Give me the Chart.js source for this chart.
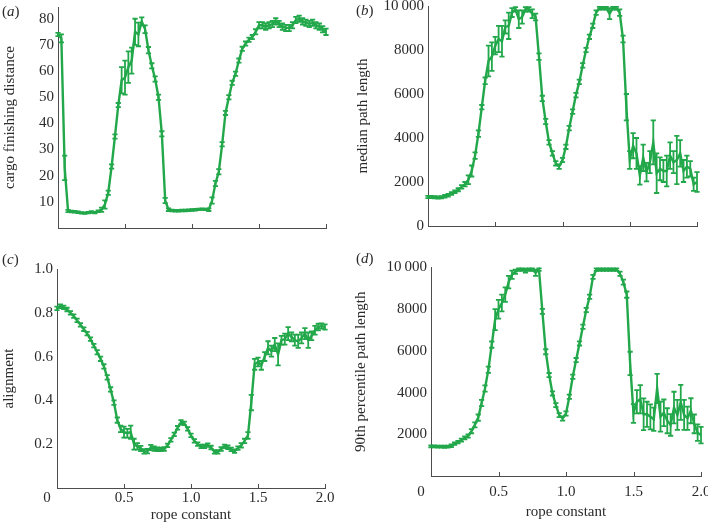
<!DOCTYPE html>
<html>
<head>
<meta charset="utf-8">
<script src="https://cdn.jsdelivr.net/npm/chart.js@4.4.1/dist/chart.umd.min.js"></script>
<style>
  html, body { margin: 0; padding: 0; background: #fff; }
  body { position: relative; width: 708px; height: 523px; overflow: hidden;
         font-family: 'Liberation Serif', 'Times New Roman', serif; color: #2b2b2b; }
  canvas { position: absolute; }
  .tag { position: absolute; font-size: 15px; line-height: 15px; }
</style>
</head>
<body>
<canvas id="panelA" width="354" height="260" style="left:0;top:0"></canvas>
<canvas id="panelB" width="354" height="260" style="left:354px;top:0"></canvas>
<canvas id="panelC" width="354" height="263" style="left:0;top:260px"></canvas>
<canvas id="panelD" width="354" height="263" style="left:354px;top:260px"></canvas>
<div class="tag" style="left:2px;top:4px">(<i>a</i>)</div>
<div class="tag" style="left:356px;top:3px">(<i>b</i>)</div>
<div class="tag" style="left:2px;top:252px">(<i>c</i>)</div>
<div class="tag" style="left:356px;top:251px">(<i>d</i>)</div>
<script>
// x values shared by all four panels
var ROPE_CONSTANT = [
  0, 0.025, 0.05, 0.075, 0.1, 0.125, 0.15, 0.175, 0.2, 0.225,
  0.25, 0.275, 0.3, 0.325, 0.35, 0.375, 0.4, 0.425, 0.45, 0.475,
  0.5, 0.525, 0.55, 0.575, 0.6, 0.625, 0.65, 0.675, 0.7, 0.725,
  0.75, 0.775, 0.8, 0.825, 0.85, 0.875, 0.9, 0.925, 0.95, 0.975,
  1.0, 1.025, 1.05, 1.075, 1.1, 1.125, 1.15, 1.175, 1.2, 1.225,
  1.25, 1.275, 1.3, 1.325, 1.35, 1.375, 1.4, 1.425, 1.45, 1.475,
  1.5, 1.525, 1.55, 1.575, 1.6, 1.625, 1.65, 1.675, 1.7, 1.725,
  1.75, 1.775, 1.8, 1.825, 1.85, 1.875, 1.9, 1.925, 1.95, 1.975,
  2.0
];

// (a) cargo finishing distance
var CARGO_DIST = [
  74, 72.5, 23, 6.5, 6.3, 6.2, 6.0, 5.8, 5.7, 5.9,
  6.1, 5.9, 6.4, 7, 9, 13.5, 23.5, 35, 47, 56.5,
  57.5, 61.5, 64, 75, 74, 79, 76, 68, 62, 57,
  50, 36, 10.5, 7, 6.7, 6.6, 6.6, 6.7, 6.7, 6.8,
  6.9, 7.0, 7.1, 7.2, 7.1, 7.0, 10.5, 17, 21.5, 32,
  44, 50, 55.5, 59, 64, 68.5, 70.5, 72, 73, 75,
  77.5, 77.5, 77, 77.5, 78, 79, 78, 77, 76.5, 76.5,
  77.5, 79.5, 80, 79, 78.5, 78, 78.5, 77.5, 77, 76,
  75
];
var CARGO_ERR = [
  0.6, 1.5, 4.7, 0.4, 0.3, 0.3, 0.3, 0.3, 0.3, 0.3,
  0.3, 0.3, 0.3, 0.8, 1.6, 0.8, 0.8, 0.8, 0.8, 5,
  6.5, 6, 5, 5, 4.5, 1.5, 1.5, 1.2, 1, 1,
  1, 1, 1, 0.5, 0.3, 0.3, 0.3, 0.3, 0.3, 0.3,
  0.3, 0.3, 0.3, 0.3, 0.3, 0.5, 1.2, 1, 1, 0.8,
  0.8, 0.8, 0.8, 0.8, 0.8, 0.8, 0.8, 0.8, 0.8, 1,
  1.2, 1.2, 1.2, 1.2, 1.2, 1.2, 1.2, 1.2, 1.2, 1.2,
  1.2, 1.2, 1.2, 1.2, 1.2, 1.2, 1.2, 1.2, 1.2, 1.2,
  1.2
];

// (b) median path length
var MEDIAN_PATH = [
  1320, 1320, 1310, 1300, 1310, 1350, 1400, 1480, 1560, 1650,
  1780, 1900, 2100, 2500, 3200, 4200, 5400, 6600, 7500, 7700,
  8200, 8500, 8400, 9050, 9100, 9700, 9850, 9400, 9500, 9850,
  9850, 9650, 9500, 7700, 5800, 4750, 3800, 3300, 2850, 2700,
  3000, 3600, 4450, 5200, 5950, 6550, 7300, 8000, 8600, 9100,
  9700, 9900, 9900, 9900, 9650, 9900, 9900, 9700, 8500, 5400,
  3000, 3650, 3300, 2300, 3100, 2450, 2900, 3800, 2400, 2600,
  2500, 2500, 3200, 2900, 3000, 3300, 2500, 2700, 2600, 1900,
  2000
];
var MEDIAN_ERR = [
  50, 50, 50, 50, 50, 60, 60, 60, 60, 70,
  80, 100, 200, 250, 150, 150, 100, 150, 700, 650,
  400, 600, 700, 300, 600, 200, 100, 400, 300, 100,
  100, 200, 150, 150, 120, 120, 100, 100, 100, 100,
  100, 100, 100, 100, 100, 100, 100, 100, 100, 100,
  100, 60, 60, 60, 250, 60, 60, 150, 150, 600,
  400, 570, 700, 420, 600, 420, 500, 1000, 900, 520,
  500, 700, 600, 500, 1100, 600, 500, 500, 350, 300,
  450
];

// (c) alignment
var ALIGNMENT = [
  0.82, 0.83, 0.825, 0.815, 0.80, 0.785, 0.765, 0.745, 0.725, 0.705,
  0.68, 0.65, 0.62, 0.59, 0.555, 0.505, 0.45, 0.39, 0.31, 0.27,
  0.255, 0.25, 0.255, 0.2, 0.19, 0.18, 0.167, 0.168, 0.185, 0.18,
  0.177, 0.176, 0.178, 0.195, 0.22, 0.245, 0.275, 0.3, 0.295, 0.27,
  0.24, 0.215, 0.2, 0.19, 0.19, 0.196, 0.185, 0.165, 0.165, 0.178,
  0.19, 0.186, 0.176, 0.168, 0.182, 0.195, 0.215, 0.24, 0.39, 0.565,
  0.575, 0.56, 0.6, 0.64, 0.625, 0.655, 0.61, 0.675, 0.68, 0.705,
  0.69, 0.675, 0.67, 0.685, 0.705, 0.675, 0.695, 0.72, 0.735, 0.74,
  0.735
];
var ALIGNMENT_ERR = [
  0.008, 0.008, 0.008, 0.008, 0.008, 0.008, 0.008, 0.008, 0.008, 0.008,
  0.008, 0.008, 0.01, 0.01, 0.01, 0.01, 0.01, 0.01, 0.012, 0.015,
  0.025, 0.02, 0.03, 0.025, 0.015, 0.012, 0.01, 0.01, 0.012, 0.01,
  0.008, 0.008, 0.008, 0.008, 0.008, 0.008, 0.008, 0.01, 0.008, 0.008,
  0.008, 0.008, 0.008, 0.008, 0.008, 0.008, 0.008, 0.008, 0.008, 0.008,
  0.008, 0.008, 0.008, 0.008, 0.008, 0.01, 0.01, 0.015, 0.035, 0.025,
  0.02, 0.02, 0.02, 0.03, 0.025, 0.03, 0.05, 0.02, 0.025, 0.03,
  0.02, 0.025, 0.03, 0.025, 0.025, 0.035, 0.02, 0.02, 0.015, 0.012,
  0.012
];

// (d) 90th percentile path length
var PCT90_PATH = [
  1420, 1420, 1410, 1410, 1400, 1410, 1450, 1550, 1620, 1720,
  1830, 1920, 2150, 2450, 2800, 3500, 4200, 5100, 6300, 7500,
  8000, 8300, 8700, 9300, 9650, 9800, 9900, 9900, 9850, 9900,
  9900, 9750, 9900, 7900, 5960, 4840, 3960, 3400, 2920, 2760,
  3000, 3800, 4760, 5560, 6360, 7160, 7960, 8600, 9550, 9900,
  9900, 9900, 9900, 9900, 9900, 9900, 9700, 9300, 8700, 5400,
  3000, 3560, 3680, 2960, 2960, 2840, 2720, 4200, 2850, 3030,
  2650, 2450, 3280, 2930, 3530, 2930, 2770, 3130, 2500, 2080,
  1960
];
var PCT90_ERR = [
  50, 50, 50, 50, 50, 50, 60, 60, 60, 70,
  70, 80, 100, 120, 150, 150, 150, 150, 150, 500,
  450, 400, 350, 300, 200, 100, 60, 60, 100, 60,
  60, 150, 60, 120, 120, 100, 100, 100, 100, 100,
  100, 100, 100, 100, 100, 100, 100, 100, 100, 60,
  60, 60, 60, 60, 60, 60, 100, 120, 150, 560,
  450, 560, 680, 760, 600, 600, 560, 700, 720, 640,
  600, 520, 760, 720, 840, 720, 560, 600, 450, 400,
  400
];

var GREEN = '#22a84a';
var AXIS_COLOR = '#4d4d4d';
var TEXT_COLOR = '#2b2b2b';
var SERIF = "'Liberation Serif', 'Times New Roman', serif";

// Error bars, inward x tick marks and the offset "0" corner label
var errorBarPlugin = {
  id: 'errorBars',
  afterDatasetsDraw: function (chart, args, opts) {
    var ctx = chart.ctx;
    var ds = chart.data.datasets[0];
    var meta = chart.getDatasetMeta(0);
    var ys = chart.scales.y;
    var xs = chart.scales.x;
    ctx.save();
    ctx.strokeStyle = GREEN;
    ctx.lineWidth = 1.8;
    meta.data.forEach(function (pt, i) {
      var v = ds.data[i].y, e = ds.errors[i];
      var top = ys.getPixelForValue(v + e);
      var bot = ys.getPixelForValue(v - e);
      ctx.beginPath();
      ctx.moveTo(pt.x, top); ctx.lineTo(pt.x, bot);
      ctx.moveTo(pt.x - 2.6, top); ctx.lineTo(pt.x + 2.6, top);
      ctx.moveTo(pt.x - 2.6, bot); ctx.lineTo(pt.x + 2.6, bot);
      ctx.stroke();
    });
    ctx.strokeStyle = AXIS_COLOR;
    ctx.lineWidth = 1;
    xs.ticks.forEach(function (t) {
      var px = Math.round(xs.getPixelForValue(t.value)) + 0.5;
      ctx.beginPath();
      ctx.moveTo(px, xs.top);
      ctx.lineTo(px, xs.top - 4);
      ctx.stroke();
    });
    if (opts.zeroLabel) {
      ctx.fillStyle = TEXT_COLOR;
      ctx.font = '15px ' + SERIF;
      ctx.textAlign = 'center';
      ctx.textBaseline = 'middle';
      ctx.fillText('0', xs.getPixelForValue(0) - 10, xs.top + opts.zeroLabel);
    }
    ctx.restore();
  }
};

function toPoints(xs, ys) {
  return xs.map(function (x, i) { return { x: x, y: ys[i] }; });
}

function fixedBox(size, key) {
  return function (s) {
    s[key] = size;
    s.paddingTop = 0; s.paddingBottom = 0; s.paddingLeft = 0; s.paddingRight = 0;
  };
}

/**
 * One panel: line with error bars, axes fixed so the plot area lands where the reference has it.
 * area = {left, top, right, bottom} in canvas pixels.
 */
function createPanel(canvasId, series, errors, o) {
  var canvas = document.getElementById(canvasId);
  var font = { family: SERIF, size: 15 };
  var titleFont = { family: SERIF, size: 15, lineHeight: 1 };
  return new Chart(canvas, {
    type: 'line',
    data: {
      datasets: [{
        data: toPoints(ROPE_CONSTANT, series),
        errors: errors,
        borderColor: GREEN,
        borderWidth: 2.4,
        pointRadius: 0,
        tension: 0,
        clip: false,
      }],
    },
    options: {
      responsive: false,
      animation: false,
      events: [],
      layout: { padding: { top: o.area.top, right: canvas.width - o.area.right, left: 0, bottom: 0 } },
      plugins: {
        legend: { display: false },
        tooltip: { enabled: false },
        errorBars: { zeroLabel: o.xLabels ? o.xTickPad + 9 : 0 },
      },
      scales: {
        x: {
          type: 'linear',
          min: 0,
          max: 2,
          ticks: {
            stepSize: 0.5,
            display: o.xLabels,
            padding: o.xTickPad || 0,
            maxRotation: 0,
            font: font,
            color: TEXT_COLOR,
            callback: function (v) { return v === 0 ? '' : v.toFixed(1); },
          },
          grid: { drawOnChartArea: false, drawTicks: false },
          border: { color: AXIS_COLOR, width: 1 },
          title: {
            display: o.xLabels,
            text: 'rope constant',
            font: titleFont,
            color: TEXT_COLOR,
            padding: { top: 0, bottom: o.xTitlePad || 0 },
          },
          afterFit: fixedBox(canvas.height - o.area.bottom, 'height'),
        },
        y: {
          type: 'linear',
          min: o.yMin,
          max: o.yMax,
          ticks: {
            stepSize: o.yStep,
            includeBounds: false,
            padding: 4,
            font: font,
            color: TEXT_COLOR,
            callback: o.yFormat,
          },
          grid: { drawOnChartArea: false, drawTicks: false },
          border: { color: AXIS_COLOR, width: 1 },
          title: {
            display: true,
            text: o.yTitle,
            font: titleFont,
            color: TEXT_COLOR,
            padding: { top: o.yTitlePad, bottom: 0 },
          },
          afterFit: fixedBox(o.area.left, 'width'),
        },
      },
    },
    plugins: [errorBarPlugin],
  });
}

function formatPath(showZero) {
  return function (v) {
    if (v === 0) return showZero ? '0' : '';
    if (v === 10000) return '10\u2009000';
    return String(v);
  };
}

createPanel('panelA', CARGO_DIST, CARGO_ERR, {
  area: { left: 58, top: 7, right: 326, bottom: 228 },
  yMin: 0, yMax: 84.5, yStep: 10,
  yFormat: function (v) { return v === 0 ? '' : String(v); },
  yTitle: 'cargo finishing distance', yTitlePad: 2.5,
  xLabels: false,
});

createPanel('panelB', MEDIAN_PATH, MEDIAN_ERR, {
  area: { left: 74, top: 6, right: 343, bottom: 226 },
  yMin: 0, yMax: 10000, yStep: 2000,
  yFormat: formatPath(true),
  yTitle: 'median path length', yTitlePad: 1.5,
  xLabels: false,
});

createPanel('panelC', ALIGNMENT, ALIGNMENT_ERR, {
  area: { left: 57, top: 9, right: 325, bottom: 228 },
  yMin: 0, yMax: 1, yStep: 0.2,
  yFormat: function (v) { return v === 0 ? '' : v.toFixed(1); },
  yTitle: 'alignment', yTitlePad: 1.5,
  xLabels: true, xTickPad: 1, xTitlePad: 0,
});

createPanel('panelD', PCT90_PATH, PCT90_ERR, {
  area: { left: 77, top: 7.5, right: 347, bottom: 216 },
  yMin: 0, yMax: 10000, yStep: 2000,
  yFormat: formatPath(false),
  yTitle: '90th percentile path length', yTitlePad: 0,
  xLabels: true, xTickPad: 7, xTitlePad: 3.5,
});
</script>
</body>
</html>
